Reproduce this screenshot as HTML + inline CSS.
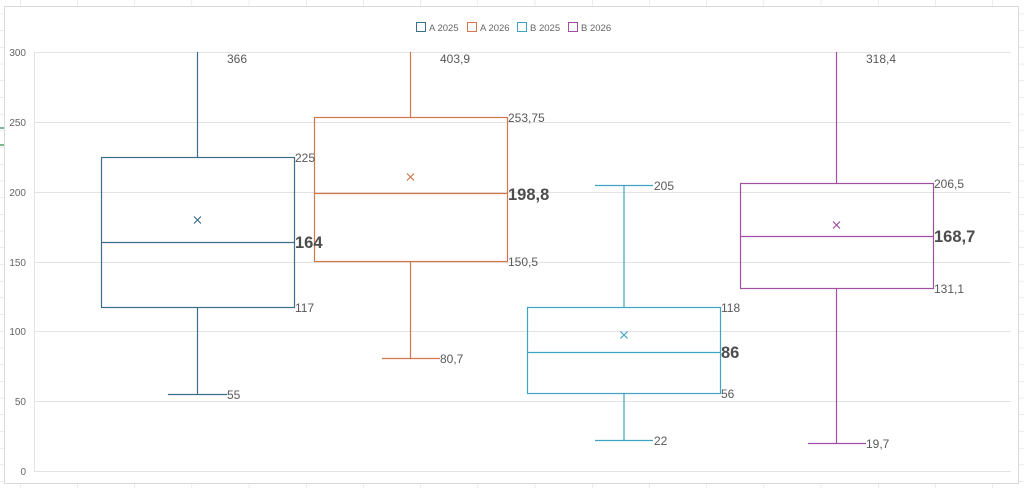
<!DOCTYPE html>
<html><head><style>
html,body{margin:0;padding:0;background:#fff;}
svg{display:block;font-family:"Liberation Sans",sans-serif;}
</style></head><body>
<svg width="1024" height="488" viewBox="0 0 1024 488" xmlns="http://www.w3.org/2000/svg">
<defs>
<pattern id="cells" x="20" y="-3" width="57.2" height="16.7" patternUnits="userSpaceOnUse">
<path d="M0 0V16.7M0 0H57.2" stroke="#dadada" stroke-width="1" fill="none"/>
</pattern>
</defs>
<rect width="1024" height="488" fill="#fff"/>
<rect width="1024" height="488" fill="url(#cells)"/>
<path d="M0 128H4M0 145H4" stroke="#2e8b57" stroke-width="1.2"/>
<rect x="4.5" y="6.5" width="1014" height="477" fill="#fff" stroke="#d9d9d9"/>
<g stroke="#e3e3e3" stroke-width="1">
<path d="M34 52.5H1011M34 122.5H1011M34 192.5H1011M34 262.5H1011M34 331.5H1011M34 401.5H1011M34 471.5H1011M34.5 52V471"/>
</g>
<g fill="#666" font-size="10" text-anchor="end">
<text x="26" y="56">300</text><text x="26" y="126">250</text><text x="26" y="196">200</text>
<text x="26" y="266">150</text><text x="26" y="335">100</text><text x="26" y="405">50</text><text x="26" y="475">0</text>
</g>
<!-- legend -->
<g font-size="9.5" fill="#666">
<rect x="416.5" y="22.5" width="9" height="9" fill="none" stroke="#3c6e8a"/><text x="429" y="31">A 2025</text>
<rect x="467.5" y="22.5" width="9" height="9" fill="none" stroke="#d5764a"/><text x="480" y="31">A 2026</text>
<rect x="517.5" y="22.5" width="9" height="9" fill="none" stroke="#3fa3c4"/><text x="530" y="31">B 2025</text>
<rect x="568.5" y="22.5" width="9" height="9" fill="none" stroke="#a04fa3"/><text x="581" y="31">B 2026</text>
</g>
<g fill="none" stroke-width="1.2">
<g stroke="#3c6e8a">
<path d="M197.5 52V157M197.5 307V394.5M168 394.5H227"/>
<rect x="101.5" y="157.5" width="193" height="150"/>
<path d="M101.5 242.5H294.5"/>
<path d="M194 216.5l7 7M201 216.5l-7 7"/>
</g>
<g stroke="#d5764a">
<path d="M410.5 52V117M410.5 261V358.5M382 358.5H440"/>
<rect x="314.5" y="117.5" width="193" height="144"/>
<path d="M314.5 193.5H507.5"/>
<path d="M407 173.5l7 7M414 173.5l-7 7"/>
</g>
<g stroke="#3fa3c4">
<path d="M624 185V307.5M595 185.5H653M624 393V440.5M595 440.5H653"/>
<rect x="527.5" y="307.5" width="193" height="86"/>
<path d="M527.5 352.5H720.5"/>
<path d="M620.5 331.5l7 7M627.5 331.5l-7 7"/>
</g>
<g stroke="#a04fa3">
<path d="M836.5 52V183.5M836.5 288.5V443.5M808 443.5H866"/>
<rect x="740.5" y="183.5" width="193" height="105"/>
<path d="M740.5 236.5H933.5"/>
<path d="M833 221.5l7 7M840 221.5l-7 7"/>
</g>
</g>
<g fill="#595959" font-size="12">
<text x="227" y="63">366</text><text x="295" y="162">225</text><text x="295" y="312">117</text><text x="227" y="399">55</text>
<text x="440" y="63">403,9</text><text x="508" y="122">253,75</text><text x="508" y="266">150,5</text><text x="440" y="363">80,7</text>
<text x="654" y="190">205</text><text x="721" y="312">118</text><text x="721" y="398">56</text><text x="654" y="445">22</text>
<text x="866" y="63">318,4</text><text x="934" y="188">206,5</text><text x="934" y="293">131,1</text><text x="866" y="448">19,7</text>
</g>
<g fill="#4d4d4d" font-size="16.5" font-weight="bold">
<text x="295" y="248">164</text><text x="508" y="200">198,8</text><text x="721" y="358">86</text><text x="934" y="242">168,7</text>
</g>
</svg>
</body></html>
